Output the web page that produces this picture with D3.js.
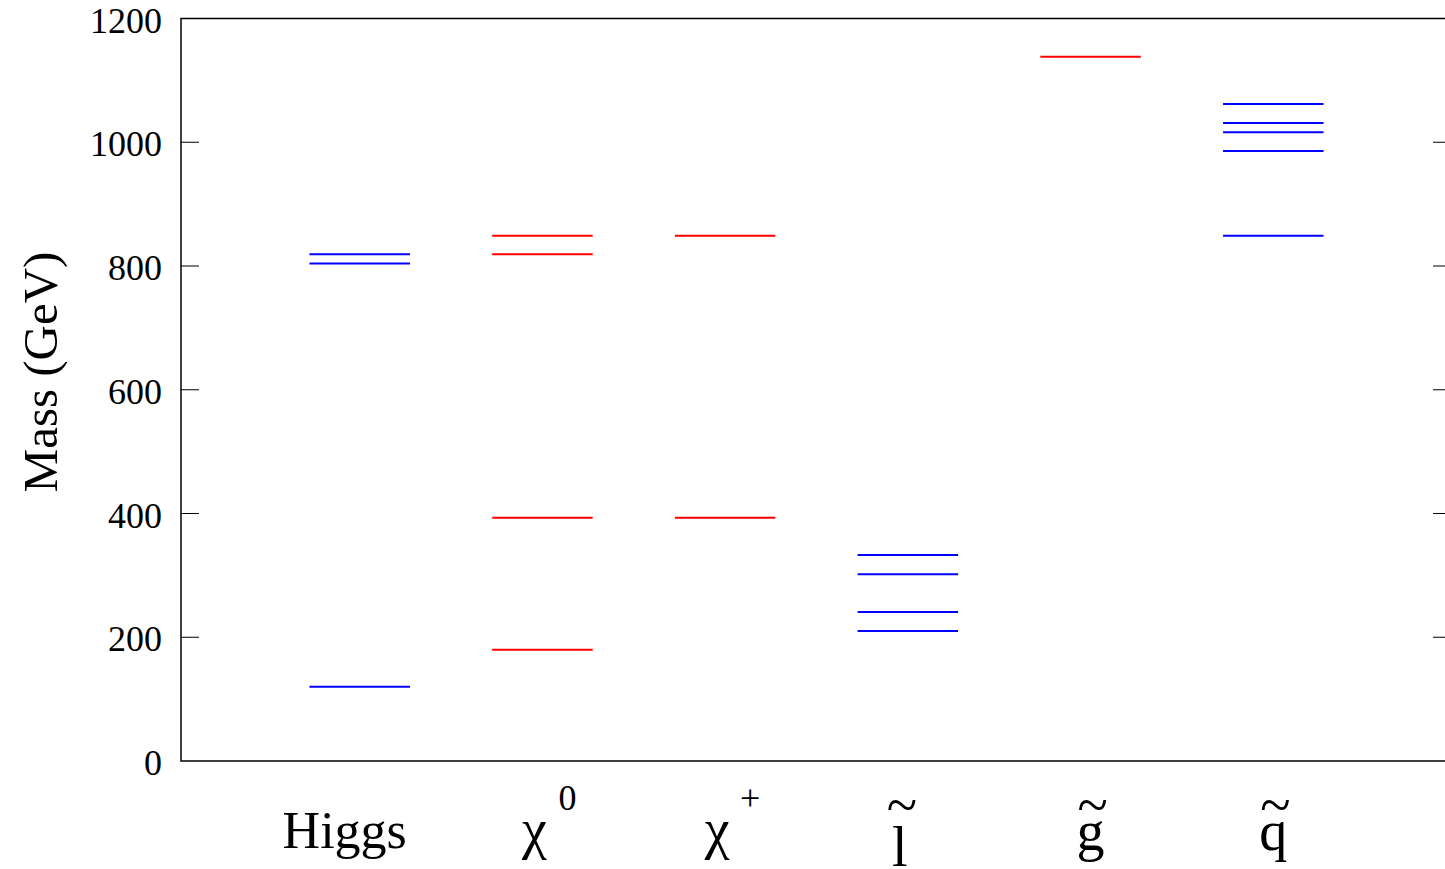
<!DOCTYPE html>
<html>
<head>
<meta charset="utf-8">
<script src="https://cdn.jsdelivr.net/npm/d3@7"></script>
<style>
  html, body { margin: 0; padding: 0; background: #fff; }
  svg { display: block; font-family: "Liberation Serif", "DejaVu Serif", serif; }
</style>
</head>
<body>
<svg id="chart" width="1445" height="869"></svg>
<script>
// [base, superscript, accent]
const CATEGORIES = [
  ["Higgs", "", ""],
  ["χ", "0", ""],
  ["χ", "+", ""],
  ["l", "", "~"],
  ["g", "", "~"],
  ["q", "", "~"],
];

// mass levels per column (GeV)
const HIGGS = [120, 804, 819];
const NEUTRALINO = [180, 393, 819, 849];
const CHARGINO = [393, 849];
const SLEPTON = [210, 241, 302, 333];
const GLUINO = [1138];
const SQUARK = [849, 986, 1016, 1031, 1062];

const COLUMNS = [
  // [column index, levels, colour]
  [1, HIGGS, "#0000ff"],
  [2, NEUTRALINO, "#ff0000"],
  [3, CHARGINO, "#ff0000"],
  [4, SLEPTON, "#0000ff"],
  [5, GLUINO, "#ff0000"],
  [6, SQUARK, "#0000ff"],
];

const Y_TICKS = [0, 200, 400, 600, 800, 1000, 1200];

const svg = d3.select("#chart");
const pLeft = 181, pRight = 1451, pTop = 18.5, pBottom = 761;

const x = d3.scaleLinear().domain([0, 7]).range([177, 1456]);
const y = d3.scaleLinear().domain([0, 1200]).range([pBottom, pTop]);
const half = 0.275;

// frame
svg.append("path")
  .attr("d", `M${pRight},${pTop}H${pLeft}V${pBottom}H${pRight}`)
  .attr("fill", "none").attr("stroke", "#000").attr("stroke-width", 1.5);

// y ticks, both sides, pointing inward
Y_TICKS.slice(1, -1).forEach(v => {
  svg.append("line").attr("x1", pLeft).attr("x2", pLeft + 18)
    .attr("y1", y(v)).attr("y2", y(v)).attr("stroke", "#000").attr("stroke-width", 1);
  svg.append("line").attr("x1", pRight - 18).attr("x2", pRight)
    .attr("y1", y(v)).attr("y2", y(v)).attr("stroke", "#000").attr("stroke-width", 1);
});
svg.append("g").selectAll("text").data(Y_TICKS).join("text")
  .attr("x", 162).attr("y", d => y(d) + 14)
  .attr("text-anchor", "end").attr("font-size", 36)
  .text(d => d);

// axis title
svg.append("text")
  .attr("transform", "translate(57,372) rotate(-90)")
  .attr("text-anchor", "middle").attr("font-size", 49)
  .text("Mass (GeV)");

// level lines
COLUMNS.forEach(([i, levels, colour]) => {
  svg.append("g").selectAll("line").data(levels).join("line")
    .attr("x1", x(i - half)).attr("x2", x(i + half))
    .attr("y1", d => y(d)).attr("y2", d => y(d))
    .attr("stroke", colour).attr("stroke-width", 2);
});

// column labels, one text each (base + superscript or overprinted tilde)
const labels = svg.append("g");
CATEGORIES.forEach(([base, sup, accent], k) => {
  const cx = x(k + 1);
  const t = labels.append("text").attr("text-anchor", "middle");
  if (base === "Higgs") {
    t.append("tspan").attr("x", cx - 15).attr("y", 848)
      .attr("font-size", 52).text(base);
  } else if (sup) {
    t.append("tspan").attr("x", cx - 8).attr("y", 848)
      .attr("font-size", 56).text(base);
    t.append("tspan").attr("x", cx + 25).attr("y", 810)
      .attr("font-size", 36).text(sup);
  } else {
    const isL = base === "l";
    const bx = isL ? cx - 8 : cx;
    t.append("tspan").attr("x", bx).attr("y", isL ? 866 : 850)
      .attr("font-size", 56).text(base);
    t.append("tspan").attr("x", bx + 2).attr("y", 824)
      .attr("font-size", 56).text(accent);
  }
});
</script>
</body>
</html>
